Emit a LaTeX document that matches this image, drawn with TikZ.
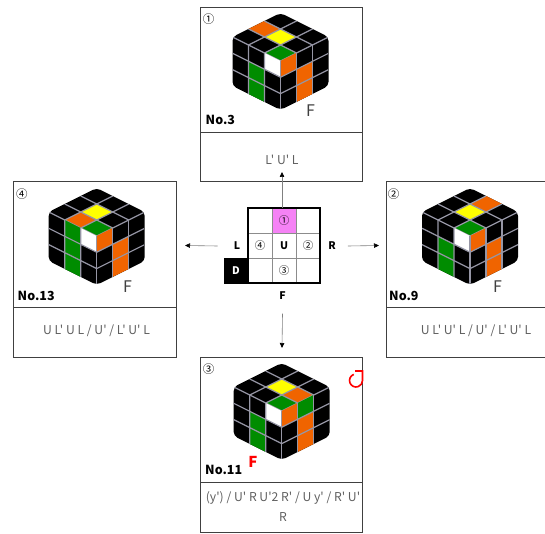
\documentclass[tikz,border=0pt]{standalone}
\usepackage{fontspec}
\setmainfont{Noto Sans CJK JP}
\newfontfamily\jpfont{Noto Sans CJK JP}
\usetikzlibrary{arrows.meta}
\definecolor{cubeorange}{RGB}{240,100,0}
\definecolor{cubegreen}{RGB}{0,140,0}
\definecolor{cubeyellow}{RGB}{255,255,0}
\definecolor{cubeline}{RGB}{150,150,165}
\definecolor{cellpink}{RGB}{245,130,245}
\definecolor{textgray}{RGB}{95,95,95}
% cube seen from the front corner: x, y of that corner, stickers on top, left, right face
\newcommand{\makecube}[5]{
	\begin{scope}[shift={(#1,#2)}]
	\clip[rounded corners=4pt] (0,-48) -- (48,-24) -- (48,24.9) -- (0,48.9) -- (-48,24.9) -- (-48,-24) -- cycle;
	\fill[black] (-50,-50) rectangle (50,50);
	\begin{scope}[x={(16pt,8pt)}, y={(-16pt,8pt)}]
	\foreach \i/\j/\c in {#3} \fill[\c] (\i,\j) -- ++(1,0) -- ++(0,1) -- ++(-1,0) -- cycle;
	\foreach \n in {0,1,2} \draw[cubegrid] (\n,0) -- (\n,3) (0,\n) -- (3,\n);
	\end{scope}
	\begin{scope}[x={(-16pt,8pt)}, y={(0pt,-16.3pt)}]
	\foreach \i/\j/\c in {#4} \fill[\c] (\i,\j) -- ++(1,0) -- ++(0,1) -- ++(-1,0) -- cycle;
	\foreach \n in {1,2} \draw[cubegrid] (\n,0) -- (\n,3) (0,\n) -- (3,\n);
	\end{scope}
	\begin{scope}[x={(16pt,8pt)}, y={(0pt,-16.3pt)}]
	\foreach \i/\j/\c in {#5} \fill[\c] (\i,\j) -- ++(1,0) -- ++(0,1) -- ++(-1,0) -- cycle;
	\foreach \n in {0,1,2} \draw[cubegrid] (\n,0) -- (\n,3);
	\foreach \n in {1,2} \draw[cubegrid] (0,\n) -- (3,\n);
	\end{scope}
	\end{scope}
}

\begin{document}
\begin{tikzpicture}[x=1pt,y=-1pt,
	cubegrid/.style={cubeline, line width=1.2pt},
	panel/.style={draw=black!75, line width=0.9pt},
	algtext/.style={text=textgray, font=\jpfont\fontsize{12.2}{20}\selectfont, align=center},
	caseno/.style={anchor=west, inner sep=0pt, font=\jpfont\bfseries\fontsize{12.5}{14}\selectfont},
	slot/.style={inner sep=0pt, font=\jpfont\fontsize{11.5}{13}\selectfont},
	frontmark/.style={inner sep=0pt, text=black!75, font=\jpfont\fontsize{16}{16}\selectfont},
	cell/.style={draw=black!45, minimum width=24pt, minimum height=25pt, inner sep=0pt, font=\jpfont\fontsize{10.5}{12}\selectfont},
	facelabel/.style={inner sep=0pt, font=\jpfont\bfseries\fontsize{10.5}{12}\selectfont},
	move/.style={black!50, line width=0.6pt, -{Triangle[length=5pt,width=4.5pt,black]}}]
	\useasboundingbox (0,0) rectangle (545,534);

	% panels
	\draw[panel] (200.5,7.5) rectangle (362.5,181.5) (200.5,132) -- (362.5,132);
	\draw[panel] (13,181.5) rectangle (176,357.5) (13,307) -- (176,307);
	\draw[panel] (386,181.5) rectangle (549,357.5) (386,307) -- (549,307);
	\draw[panel] (200.5,357.5) rectangle (362.5,532) (200.5,482) -- (362.5,482);

	% cubes
	\makecube{280.5}{61}{0/0/cubegreen,1/1/cubeyellow,1/2/cubeorange}{0/0/white,1/1/cubegreen,1/2/cubegreen}{0/0/cubeorange,1/1/cubeorange,1/2/cubeorange}
	\makecube{96.7}{236}{0/0/cubegreen,1/1/cubeyellow,0/1/cubeorange}{0/0/white,1/0/cubegreen,1/1/cubegreen,1/2/cubegreen}{0/0/cubeorange,1/1/cubeorange,1/2/cubeorange}
	\makecube{470}{236}{0/0/cubegreen,1/1/cubeyellow,2/1/cubeorange}{0/0/white,1/1/cubegreen,1/2/cubegreen}{0/0/cubeorange,1/1/cubeorange,1/2/cubeorange}
	\makecube{281.7}{411}{0/0/cubegreen,1/1/cubeyellow,1/0/cubeorange}{0/0/white,1/1/cubegreen,1/2/cubegreen}{0/0/cubeorange,1/0/cubegreen,1/1/cubeorange,1/2/cubeorange}

	\node[frontmark] (f3) at (310.5,111) {F};
	\node[frontmark] (f13) at (127.5,286.5) {F};
	\node[frontmark] (f9) at (497.5,286.5) {F};
	\node[frontmark, text=red, font=\jpfont\bfseries\fontsize{15}{15}\selectfont] (f11) at (253,461.5) {F};

	% rotation mark
	\coordinate (rot) at (356,380.5);
	\draw[red, line width=1.6pt] (rot) ++(-110:6.5) arc[start angle=-110, end angle=-360, radius=6.5] -- (362.5,371) -- (355,371);

	% texts
	\node[slot] (n1) at (208.5,19.5) {①};
	\node[slot] (n4) at (22,194) {④};
	\node[slot] (n2) at (393.5,194) {②};
	\node[slot] (n3) at (208.5,369.5) {③};
	\node[caseno] (no3) at (205.5,120) {No.3};
	\node[caseno] (no13) at (17.5,296) {No.13};
	\node[caseno] (no9) at (389,296) {No.9};
	\node[caseno] (no11) at (205,469.5) {No.11};
	\node[algtext] (alg3) at (282,159.5) {L' U' L};
	\node[algtext] (alg13) at (96.5,330.5) {U L' U L / U' / L' U' L};
	\node[algtext] (alg9) at (476,330.5) {U L' U' L / U' / L' U' L};
	\node[algtext] (alg11) at (283,506.5) {(y') / U' R U'2 R' / U y' / R' U'\\R};

	% top layer map
	\node[cell] (ul) at (260,220.5) {};
	\node[cell, fill=cellpink] (c1) at (284,220.5) {①};
	\node[cell] (ur) at (308,220.5) {};
	\node[cell] (c4) at (260,245.5) {④};
	\node[cell, font=\jpfont\bfseries\fontsize{10.5}{12}\selectfont] (up) at (284,245.5) {U};
	\node[cell] (c2) at (308,245.5) {②};
	\node[cell] (dl) at (260,270.5) {};
	\node[cell] (c3) at (284,270.5) {③};
	\node[cell] (dr) at (308,270.5) {};
	\node[cell, draw=black, fill=black, text=white, font=\jpfont\bfseries\fontsize{10.5}{12}\selectfont] (down) at (236,270.5) {D};
	\draw[line width=1.5pt] (ul.north west) rectangle (dr.south east);
	\node[facelabel] (left) at (237,246) {L};
	\node[facelabel] (right) at (332,246) {R};
	\node[facelabel] (front) at (282.5,296) {F};

	\coordinate (toU) at (282,172);
	\coordinate (toL) at (185,245.5);
	\coordinate (toR) at (379,245.5);
	\coordinate (toD) at (282,348);
	\draw[move] (c1.north -| toU) -- (toU);
	\draw[move] ([xshift=-16pt]left.west) -- (toL);
	\draw[move] ([xshift=12pt]right.east) -- (toR);
	\draw[move] ([yshift=-13.5pt]front.south) -- (toD);
\end{tikzpicture}
\end{document}
